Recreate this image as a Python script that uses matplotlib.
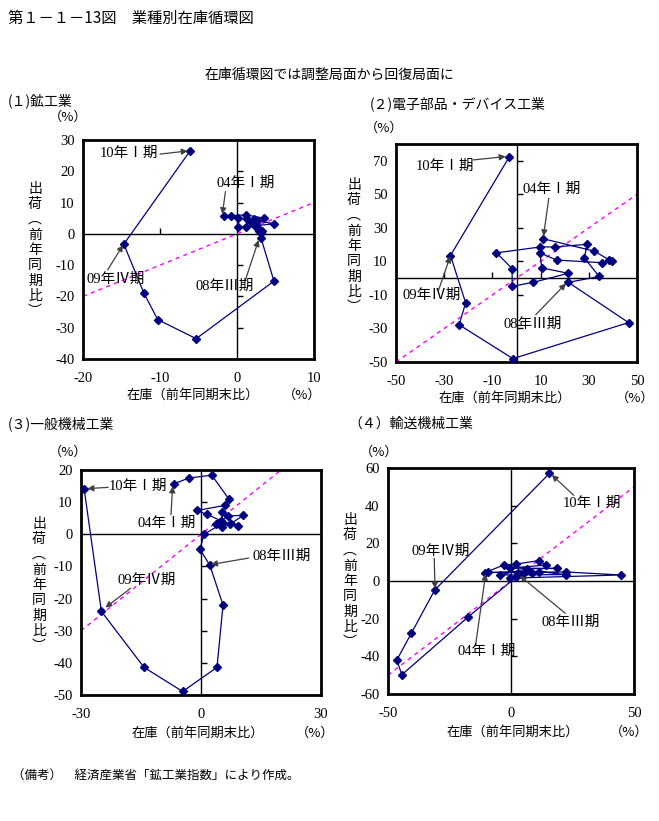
import numpy as np
import matplotlib
matplotlib.use("Agg")
import matplotlib.pyplot as plt

plt.rcParams['font.family'] = ['Noto Sans CJK JP', 'DejaVu Sans']
plt.rcParams['axes.unicode_minus'] = False

# 04年Ⅰ期 ... 10年Ⅰ期 (25 quarters): inventory (x) vs shipments (y), % y/y
p1_inv = [-1.65, -0.77, 1.18, 3.57, 2.17, 1.3, 0.09, 0.09, 1.2, 4.87, 2.6, 2.5, 2.0,
          2.3, 2.83, 3.13, 3.3, 2.9, 3.1, 4.8, -5.3, -10.3, -12.1, -14.7, -6.1]
p1_ship = [5.85, 5.85, 6.05, 5.0, 4.7, 4.7, 5.0, 2.35, 2.35, 3.2, 4.2, 2.9, 3.4,
           2.5, 1.05, 0.4, 1.0, 1.6, -1.2, -15.1, -33.5, -27.4, -18.9, -3.3, 26.5]

p2_inv = [11.1, 32.3, 39.5, 38.5, 35.6, 16.6, 9.7, 10.5, 21.5, 6.9, -1.8, -1.8, -8.3,
          9.9, 15.8, 29.4, 28.1, 34.3, 21.5, 46.5, -1.5, -23.8, -21.1, -27.4, -3.05]
p2_ship = [23.5, 16.1, 10.0, 10.8, 9.2, 10.8, 15.1, 6.1, 2.9, -2.5, -4.9, 5.7, 15.1,
           18.6, 18.6, 20.2, 12.2, 1.0, -2.5, -26.5, -48.0, -27.8, -14.7, 13.5, 72.2]

p3_inv = [-6.8, -3.0, 2.7, 7.0, 6.0, -1.0, 1.5, 5.0, 6.75, 10.6, 7.2, 9.2, 5.3,
          5.3, 3.7, 5.6, 0.75, -0.25, 2.2, 5.5, 4.0, -4.6, -14.25, -24.9, -29.2]
p3_ship = [15.7, 17.5, 18.4, 10.9, 9.0, 7.4, 6.2, 4.2, 5.7, 5.9, 3.1, 2.6, 6.9,
           2.2, 3.1, 3.6, 0.0, -4.7, -9.6, -22.0, -41.4, -48.9, -41.4, -24.0, 14.0]

p4_inv = [-9.5, -3.0, 2.0, 11.2, 14.2, -0.5, 18.9, 6.5, -4.5, 22.3, 11.5, -10.5, 22.3,
          44.7, -0.5, 8.5, 2.7, 4.8, 2.0, -17.6, -44.4, -46.4, -40.5, -31.0, 15.6]
p4_ship = [5.0, 8.5, 9.0, 10.8, 8.5, 6.8, 6.7, 6.5, 3.2, 3.4, 5.0, 4.5, 4.8,
           3.2, 1.5, 4.5, 4.3, 3.5, 2.0, -19.3, -49.8, -41.9, -27.7, -4.8, 57.1]

W, H = 659, 821
fig = plt.figure(figsize=(W / 100, H / 100), dpi=100)
fig.patch.set_facecolor('white')

navy = '#000080'
arrow_c = '#404040'
num_font = ['Liberation Serif', 'Noto Sans CJK JP']
ylab = '出\n荷\n︵\n前\n年\n同\n期\n比\n︶'


def ftext(x, y, s, **kw):
    kw.setdefault('fontsize', 10)
    kw.setdefault('va', 'center')
    fig.text(x / W, 1 - y / H, s, **kw)


def panel(box, xlim, ylim, xt, yt, inv, ship, diag, tx, ty, notes):
    l, t, r, b = box
    ax = fig.add_axes([l / W, 1 - b / H, (r - l) / W, (b - t) / H])
    ax.set_xlim(*xlim)
    ax.set_ylim(*ylim)
    for s in ax.spines.values():
        s.set_linewidth(2)
        s.set_color('black')
    ax.set_xticks(xt)
    ax.set_yticks(yt)
    ax.set_xticklabels([str(v) for v in xt], family=num_font, fontsize=10.5)
    ax.set_yticklabels([str(v) for v in yt], family=num_font, fontsize=10.5)
    ax.tick_params(axis='both', length=0)
    ax.tick_params(axis='x', pad=9)
    ax.tick_params(axis='y', pad=6)
    ax.axhline(0, color='black', lw=1, zorder=1)
    ax.axvline(0, color='black', lw=1, zorder=1)
    # small tick marks on the zero lines
    if ty:
        ax.plot([0] * len(ty), ty, ls='none', marker=1, ms=4, color='black', mew=1)
    if tx:
        ax.plot(tx, [0] * len(tx), ls='none', marker=2, ms=4, color='black', mew=1)
    # 45 degree line
    ax.plot(diag, diag, color='#FF00FF', lw=1, dashes=(3, 3), zorder=2)
    ax.plot(inv, ship, color=navy, lw=0.9, marker='D', ms=4.3, mfc=navy, mec=navy, zorder=3)
    for txt, (x0, y0), (x1, y1) in notes:
        ax.annotate('', xy=(x1, y1), xytext=(x0, y0),
                    arrowprops=dict(arrowstyle='-|>', color=arrow_c, lw=0.9,
                                    mutation_scale=9, shrinkA=0, shrinkB=0), zorder=4)
    return ax


def note(ax, x, y, s):
    ax.text(x, y, s, fontsize=10.5, family=num_font, ha='left', va='center', zorder=5)


# (1) 鉱工業
ax1 = panel((83, 140, 314, 359), (-20, 10), (-40, 30), [-20, -10, 0, 10],
            list(range(-40, 31, 10)), p1_inv, p1_ship, [-20, 10],
            [-10], [-30, -20, -10, 10, 20],
            [('10年Ⅰ期', (-10.0, 25.5), (-6.4, 26.5)),
             ('04年Ⅰ期', (-1.5, 13.5), (-1.9, 6.3)),
             ('09年Ⅳ期', (-16.8, -11.5), (-14.8, -3.6)),
             ('08年Ⅲ期', (1.1, -14.7), (2.8, -2.0))])
note(ax1, -17.8, 25.8, '10年Ⅰ期')
note(ax1, -2.7, 16.3, '04年Ⅰ期')
note(ax1, -19.5, -14.4, '09年Ⅳ期')
note(ax1, -5.4, -16.9, '08年Ⅲ期')

# (2) 電子部品・デバイス工業
ax2 = panel((396, 144, 637, 362), (-50, 50), (-50, 80), list(range(-50, 51, 20)),
            list(range(-50, 71, 20)), p2_inv, p2_ship, [-50, 50],
            [-30, -10, 10, 30], [-30, -10, 10, 30, 50, 70],
            [('10年Ⅰ期', (-18.0, 70.5), (-4.5, 72.5)),
             ('04年Ⅰ期', (13.4, 47.7), (11.2, 25.0)),
             ('09年Ⅳ期', (-32.3, -7.0), (-27.5, 13.0)),
             ('08年Ⅲ期', (8.0, -21.8), (20.5, -3.2))])
note(ax2, -41.8, 66.9, '10年Ⅰ期')
note(ax2, 2.5, 53.0, '04年Ⅰ期')
note(ax2, -47.3, -10.3, '09年Ⅳ期')
note(ax2, -5.5, -27.4, '08年Ⅲ期')

# (3) 一般機械工業
ax3 = panel((81, 470, 321, 695), (-30, 30), (-50, 20), [-30, 0, 30],
            list(range(-50, 21, 10)), p3_inv, p3_ship, [-30, 20],
            [], [-40, -30, -20, -10, 10],
            [('10年Ⅰ期', (-23.2, 14.6), (-28.4, 14.2)),
             ('04年Ⅰ期', (-7.5, 6.1), (-7.1, 14.9)),
             ('09年Ⅳ期', (-17.6, -16.8), (-23.9, -22.8)),
             ('08年Ⅲ期', (11.9, -7.4), (2.5, -9.4))])
note(ax3, -23.0, 14.9, '10年Ⅰ期')
note(ax3, -15.9, 3.5, '04年Ⅰ期')
note(ax3, -20.9, -14.2, '09年Ⅳ期')
note(ax3, 12.9, -6.9, '08年Ⅲ期')

# (4) 輸送機械工業
ax4 = panel((388, 468, 634, 694), (-50, 50), (-60, 60), [-50, 0, 50],
            list(range(-60, 61, 20)), p4_inv, p4_ship, [-50, 50],
            [], [-40, -20, 20, 40],
            [('10年Ⅰ期', (25.5, 45.5), (16.6, 56.3)),
             ('09年Ⅳ期', (-31.2, 12.0), (-30.9, -4.0)),
             ('04年Ⅰ期', (-14.4, -34.0), (-10.3, 3.8)),
             ('08年Ⅲ期', (22.1, -17.2), (3.6, 2.8))])
note(ax4, 20.9, 41.4, '10年Ⅰ期')
note(ax4, -40.4, 15.8, '09年Ⅳ期')
note(ax4, -21.7, -37.2, '04年Ⅰ期')
note(ax4, 12.4, -21.7, '08年Ⅲ期')

# y axis labels (vertical)
for x, y in [(35, 250), (354, 246), (39, 585), (350, 581)]:
    ftext(x, y, ylab, ha='center', fontsize=10, linespacing=1.12)

# text
ftext(8, 18, '第１－１－13図　業種別在庫循環図', fontsize=11)
ftext(329.5, 75, '在庫循環図では調整局面から回復局面に', ha='center', fontsize=10)
ftext(8, 101, '(１)鉱工業', fontsize=10)
ftext(370, 104, '(２)電子部品・デバイス工業', fontsize=10)
ftext(8, 424, '(３)一般機械工業', fontsize=10)
ftext(348, 424, '（４）輸送機械工業', fontsize=10)

for x, y in [(68, 117), (384, 128), (68, 452), (379, 452), (302, 395), (635, 398),
             (315, 733), (629, 732)]:
    ftext(x, y, '（%）', ha='center', fontsize=9.5)
for x, y in [(193, 395), (505, 398), (198, 733), (513, 732)]:
    ftext(x, y, '在庫（前年同期末比）', ha='center', fontsize=9.5)

ftext(12, 776, '（備考）　経済産業省「鉱工業指数」により作成。', fontsize=9)

fig.savefig('out.png', dpi=100)
